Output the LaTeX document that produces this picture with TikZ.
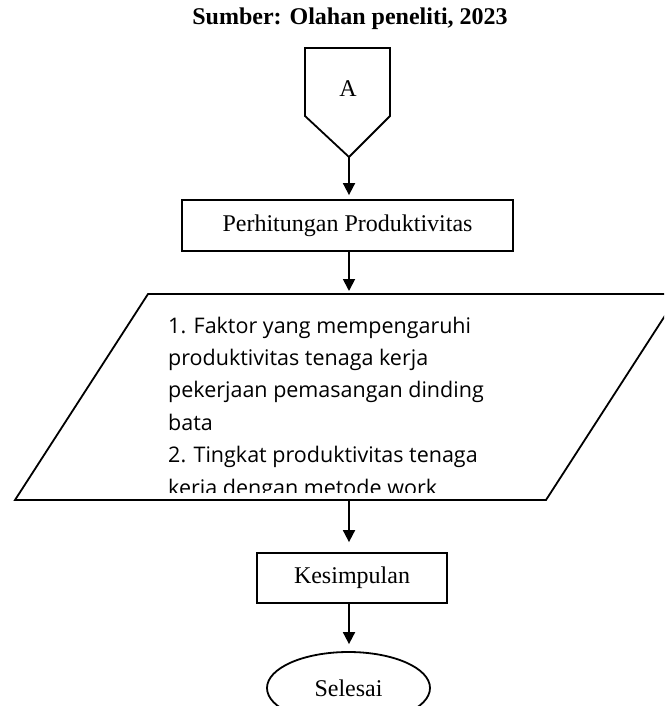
\documentclass[tikz,border=0pt]{standalone}
\usepackage{fontspec}
\setmainfont{Liberation Serif}
\newfontfamily\isiSans{Open Sans}
\usetikzlibrary{arrows.meta,shapes.geometric}
\tikzset{
  garisTebal/.style={line width=1.8pt,line join=miter},
  procBox/.style={draw,garisTebal,inner sep=0pt,font=\fontsize{24}{28}\selectfont},
  termOval/.style={ellipse,draw,garisTebal,inner sep=0pt,font=\fontsize{24}{28}\selectfont},
  flowArrow/.style={-{Triangle[length=12pt,width=12pt]},line width=1.8pt},
}

\begin{document}
\begin{tikzpicture}[x=1pt,y=-1pt]
  \useasboundingbox (0,0) rectangle (664,706);
  \clip (0,0) rectangle (664,706);
  \node[font=\bfseries\fontsize{24}{28}\selectfont] (sumber) at (350,19) {Sumber: Olahan peneliti, 2023};
  % konektor A
  \draw[garisTebal] (305,48) -- (390,48) -- (390,116) -- (349,157) -- (305,116) -- cycle;
  \node[font=\fontsize{24}{28}\selectfont] (hurufA) at (348,89) {A};
  \coordinate (ujungA) at (349,157);
  \node[procBox,minimum width=331pt,minimum height=51pt] (hitung) at (347.5,225.5) {Perhitungan Produktivitas};
  % data keluaran
  \draw[garisTebal] (148,294) -- (679,294) -- (546,500) -- (15,500) -- cycle;
  \coordinate (hasilAtas) at (349,294);
  \coordinate (hasilBawah) at (349,500);
  \begin{scope}
    \clip (0,0) rectangle (664,492);
    \foreach \baris [count=\i from 0] in {1. Faktor yang mempengaruhi,produktivitas tenaga kerja,pekerjaan pemasangan dinding,bata,2. Tingkat produktivitas tenaga,keria dengan metode work}
      \node[anchor=base west,inner sep=0pt,font=\isiSans\fontsize{21.5}{32}\selectfont] (baris\i) at (168,{333+\i*32.4}) {\baris};
  \end{scope}
  \node[procBox,minimum width=190pt,minimum height=50pt] (simpul) at (352,578) {Kesimpulan};
  \node[termOval,minimum width=163pt,minimum height=72pt] (selesai) at (348.5,688) {Selesai};
  % panah
  \draw[flowArrow,shorten >=4pt] (ujungA) -- (ujungA |- hitung.north);
  \draw[flowArrow,shorten >=3pt] (ujungA |- hitung.south) -- (hasilAtas);
  \draw[flowArrow,shorten >=10pt] (hasilBawah) -- (hasilBawah |- simpul.north);
  \draw[flowArrow,shorten >=7pt] (hasilBawah |- simpul.south) -- (hasilBawah |- selesai.north);
\end{tikzpicture}
\end{document}
